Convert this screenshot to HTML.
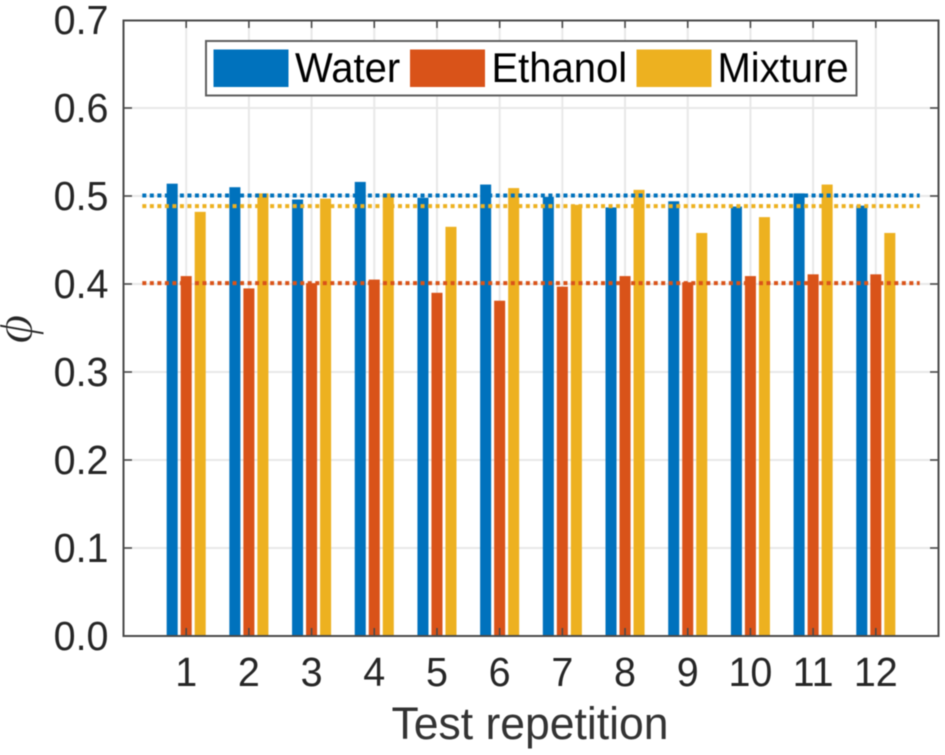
<!DOCTYPE html>
<html>
<head>
<meta charset="utf-8">
<style>
html,body{margin:0;padding:0;background:#fff;}
svg{display:block;filter:blur(0.45px);}
text{font-family:"Liberation Sans",sans-serif;fill:#262626;}
</style>
</head>
<body>
<svg id="chart" xmlns="http://www.w3.org/2000/svg" width="945" height="755" viewBox="0 0 945 755">
  <rect x="0" y="0" width="945" height="755" fill="#ffffff"/>
  <g id="grid"></g>
  <g id="bars"></g>
  <g id="means"></g>
  <rect x="123.5" y="20.5" width="815" height="615.5" fill="none" stroke="#4a4a4a" stroke-width="2"/>
  <g id="ticks"></g>
  <g id="labels"></g>
  <text transform="translate(530,739) scale(1,1.03)" font-size="44.5" text-anchor="middle" style="fill:#333">Test repetition</text>
  <text transform="translate(32,329) rotate(-90)" font-size="56" text-anchor="middle" stroke="#ffffff" stroke-width="1" style="font-family:'Liberation Serif','DejaVu Serif',serif;font-style:italic;font-weight:normal;fill:#262626">&#981;</text>
  <g>
    <rect x="206" y="41" width="650.5" height="54.5" fill="#ffffff" stroke="#5f5f5f" stroke-width="2"/>
    <rect x="213.5" y="49.5" width="75" height="37.5" fill="#0072BD"/>
    <text transform="translate(295,82) scale(1,1.04)" font-size="40" style="fill:#000">Water</text>
    <rect x="410" y="49.5" width="75" height="37.5" fill="#D95319"/>
    <text transform="translate(491.5,82) scale(1,1.04)" font-size="40" style="fill:#000">Ethanol</text>
    <rect x="636.5" y="49.5" width="75" height="37.5" fill="#EDB120"/>
    <text transform="translate(717.5,82) scale(1,1.04)" font-size="40" style="fill:#000">Mixture</text>
  </g>
</svg>
<script>
const categories = [1,2,3,4,5,6,7,8,9,10,11,12];
const water   = [0.514,0.510,0.496,0.516,0.498,0.513,0.499,0.487,0.494,0.488,0.503,0.489];
const ethanol = [0.409,0.395,0.401,0.405,0.390,0.381,0.397,0.409,0.402,0.409,0.411,0.411];
const mixture = [0.482,0.503,0.497,0.503,0.465,0.509,0.490,0.507,0.458,0.476,0.513,0.458];
const meanWater = 0.5005;
const meanEthanol = 0.401;
const meanMixture = 0.4885;
const yTicks = [0,0.1,0.2,0.3,0.4,0.5,0.6,0.7];
const yTickLabels = ['0.0','0.1','0.2','0.3','0.4','0.5','0.6','0.7'];

const NS = 'http://www.w3.org/2000/svg';
const plot = {left:123.5, right:938.5, top:20, bottom:636};
const xMax = 13, yMax = 0.7;
function xScale(v){ return plot.left + (v / xMax) * (plot.right - plot.left); }
function yScale(v){ return plot.bottom - (v / yMax) * (plot.bottom - plot.top); }
function make(tag, attrs){
  const el = document.createElementNS(NS, tag);
  for (const k in attrs) el.setAttribute(k, attrs[k]);
  return el;
}

const gridG = document.getElementById('grid');
const barsG = document.getElementById('bars');
const meansG = document.getElementById('means');
const ticksG = document.getElementById('ticks');
const labelsG = document.getElementById('labels');

categories.forEach(function(c){
  const x = xScale(c);
  const g = make('line', {x1:x, x2:x, y1:plot.top, y2:plot.bottom, stroke:'#e8e8e8', 'stroke-width':2});
  
  
  gridG.appendChild(g);

  const t1 = make('line', {x1:x, x2:x, y1:plot.bottom, y2:plot.bottom-8, stroke:'#4a4a4a', 'stroke-width':1.6});
  
  
  ticksG.appendChild(t1);

  const t2 = make('line', {x1:x, x2:x, y1:plot.top, y2:plot.top+8, stroke:'#4a4a4a', 'stroke-width':1.6});
  
  
  ticksG.appendChild(t2);

  const lab = make('text', {transform:'translate(' + x + ',686) scale(1,1.04)', 'font-size':39.5, 'text-anchor':'middle'});
  
  
  lab.textContent = String(c);
  labelsG.appendChild(lab);
});

yTicks.forEach(function(v, i){
  const y = yScale(v);
  if (i > 0 && i < yTicks.length - 1) {
    const g = make('line', {x1:plot.left, x2:plot.right, y1:y, y2:y, stroke:'#e8e8e8', 'stroke-width':2});
    
    
    gridG.appendChild(g);

    const t1 = make('line', {x1:plot.left, x2:plot.left+8.5, y1:y, y2:y, stroke:'#4a4a4a', 'stroke-width':1.6});
    
    
    ticksG.appendChild(t1);

    const t2 = make('line', {x1:plot.right, x2:plot.right-8.5, y1:y, y2:y, stroke:'#4a4a4a', 'stroke-width':1.6});
    
    
    ticksG.appendChild(t2);
  }
  const lab = make('text', {transform:'translate(108.5,' + (y + 14) + ') scale(1,1.04)', 'font-size':39.5, 'text-anchor':'end'});
  
  
  lab.textContent = yTickLabels[i];
  labelsG.appendChild(lab);
});

const barW = 0.176, barStep = 0.2235;
categories.forEach(function(c, i){
  const bw = xScale(barW) - xScale(0);

  const b1 = make('rect', {x:xScale(c - barStep) - bw/2, y:yScale(water[i]), width:bw, height:yScale(0)-yScale(water[i]), fill:'#0072BD'});
  
  
  barsG.appendChild(b1);

  const b2 = make('rect', {x:xScale(c) - bw/2, y:yScale(ethanol[i]), width:bw, height:yScale(0)-yScale(ethanol[i]), fill:'#D95319'});
  
  
  barsG.appendChild(b2);

  const b3 = make('rect', {x:xScale(c + barStep) - bw/2, y:yScale(mixture[i]), width:bw, height:yScale(0)-yScale(mixture[i]), fill:'#EDB120'});
  
  
  barsG.appendChild(b3);
});

const lineStart = 0.3, lineEnd = 12.7;

const m1 = make('line', {x1:xScale(lineStart), x2:xScale(lineEnd), y1:yScale(meanWater), y2:yScale(meanWater), stroke:'#0072BD', 'stroke-width':4, 'stroke-dasharray':'4 3.52'});


meansG.appendChild(m1);

const m2 = make('line', {x1:xScale(lineStart), x2:xScale(lineEnd), y1:yScale(meanEthanol), y2:yScale(meanEthanol), stroke:'#D95319', 'stroke-width':4, 'stroke-dasharray':'4 3.52'});


meansG.appendChild(m2);

const m3 = make('line', {x1:xScale(lineStart), x2:xScale(lineEnd), y1:yScale(meanMixture), y2:yScale(meanMixture), stroke:'#EDB120', 'stroke-width':4, 'stroke-dasharray':'4 3.52'});


meansG.appendChild(m3);
</script>
</body>
</html>
